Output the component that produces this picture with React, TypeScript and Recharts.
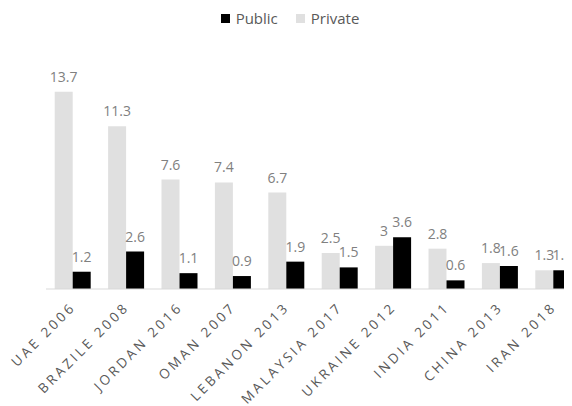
import React from 'react';
import { BarChart, Bar, XAxis, YAxis, LabelList } from 'recharts';

const categories = ['UAE 2006', 'BRAZILE 2008', 'JORDAN 2016', 'OMAN 2007', 'LEBANON 2013', 'MALAYSIA 2017', 'UKRAINE 2012', 'INDIA 2011', 'CHINA 2013', 'IRAN 2018'];
const privateValues = [13.7, 11.3, 7.6, 7.4, 6.7, 2.5, 3, 2.8, 1.8, 1.3];
const publicValues = [1.2, 2.6, 1.1, 0.9, 1.9, 1.5, 3.6, 0.6, 1.6, 1.3];
const legendItems = [
  { name: 'Public', color: '#000000' },
  { name: 'Private', color: '#e0e0e0' },
];

const data = categories.map((name, i) => ({ name, Private: privateValues[i], Public: publicValues[i] }));

const FONT = '"Open Sans", "Liberation Sans", sans-serif';

const Tick = (props: any) => {
  const { x, y, payload } = props;
  const tx = x + 4;
  const ty = y + 11;
  return (
    <text
      x={tx}
      y={ty}
      transform={`rotate(-45, ${tx}, ${ty})`}
      textAnchor="end"
      fontFamily={FONT}
      fontSize={13.5}
      letterSpacing={3}
      fill="#595959"
    >
      {payload.value}
    </text>
  );
};

export default function App() {
  return (
    <div style={{ position: 'relative', margin: '-8px 0 0 -8px', width: 590, height: 406, background: '#fff', overflow: 'hidden' }}>
      <div style={{ position: 'absolute', top: 8, left: 0, width: 580, display: 'flex', justifyContent: 'center', alignItems: 'center', fontFamily: FONT, fontSize: 15, color: '#595959' }}>
        {legendItems.map((it, i) => (
          <React.Fragment key={it.name}>
            <span style={{ display: 'inline-block', width: 9, height: 9, background: it.color, marginRight: 6 }} />
            <span style={{ marginRight: i === 0 ? 18 : 0 }}>{it.name}</span>
          </React.Fragment>
        ))}
      </div>
      <BarChart
        width={590}
        height={406}
        data={data}
        margin={{ top: 73, right: 10, bottom: 0, left: 46 }}
        barGap={0}
        barCategoryGap={8.7}
      >
        <XAxis
          dataKey="name"
          interval={0}
          tickLine={false}
          axisLine={{ stroke: '#d9d9d9', strokeWidth: 1 }}
          tick={<Tick />}
          height={117}
        />
        <YAxis hide domain={[0, 15]} />
        <Bar dataKey="Private" fill="#e0e0e0" isAnimationActive={false}>
          <LabelList dataKey="Private" position="top" offset={10} fill="#808080" fontFamily={FONT} fontSize={14} />
        </Bar>
        <Bar dataKey="Public" fill="#000000" isAnimationActive={false}>
          <LabelList dataKey="Public" position="top" offset={10} fill="#808080" fontFamily={FONT} fontSize={14} />
        </Bar>
      </BarChart>
    </div>
  );
}
